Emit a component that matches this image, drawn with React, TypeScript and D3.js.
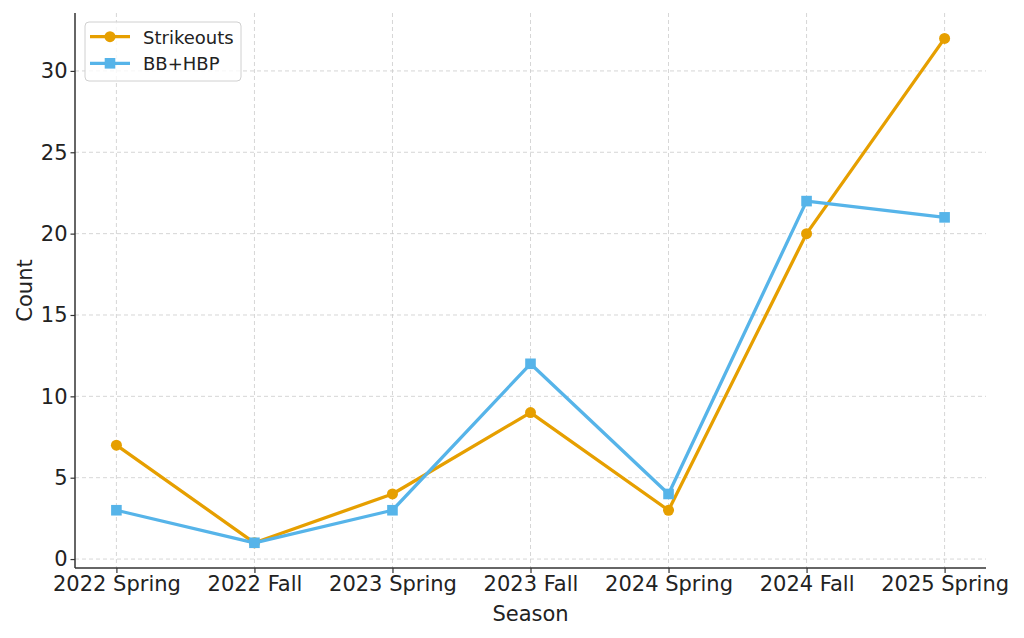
import React, { useEffect, useRef } from 'react';
import * as d3 from 'd3';

const seasons = ['2022 Spring', '2022 Fall', '2023 Spring', '2023 Fall', '2024 Spring', '2024 Fall', '2025 Spring'];
const strikeouts = [7, 1, 4, 9, 3, 20, 32];
const bbHbp = [3, 1, 3, 12, 4, 22, 21];
const yTicks = [0, 5, 10, 15, 20, 25, 30];

const colors = { orange: '#E69F00', blue: '#56B4E9' };
const font = 'DejaVu Sans, sans-serif';

export default function App() {
  const ref = useRef<SVGSVGElement>(null);
  const width = 1024;
  const height = 638;

  useEffect(() => {
    if (!ref.current) return;
    const svg = d3.select(ref.current);
    svg.selectAll('*').remove();

    const left = 75, right = 986, top = 13, bottom = 568;
    const x = d3.scaleLinear().domain([-0.3, seasons.length - 1 + 0.3]).range([left, right]);
    const y = d3.scaleLinear().domain([-0.55, 33.56]).range([bottom, top]);

    const g = svg.append('g');

    // grid
    g.selectAll('line.gx').data(seasons).enter().append('line')
      .attr('x1', (_, i) => x(i)).attr('x2', (_, i) => x(i)).attr('y1', top).attr('y2', bottom)
      .attr('stroke', '#cccccc').attr('stroke-width', 0.8).attr('stroke-dasharray', '4,3');
    g.selectAll('line.gy').data(yTicks).enter().append('line')
      .attr('x1', left).attr('x2', right).attr('y1', d => y(d)).attr('y2', d => y(d))
      .attr('stroke', '#cccccc').attr('stroke-width', 0.8).attr('stroke-dasharray', '4,3');

    // axes
    const xAxis = g.append('g').attr('transform', `translate(0,${bottom})`)
      .call(d3.axisBottom(x).tickValues(seasons.map((_, i) => i)).tickFormat((d: any) => seasons[d]).tickSize(5).tickPadding(3.5).tickSizeOuter(0));
    const yAxis = g.append('g').attr('transform', `translate(${left},0)`)
      .call(d3.axisLeft(y).tickValues(yTicks).tickSize(4.5).tickPadding(3).tickSizeOuter(0));
    [xAxis, yAxis].forEach(a => {
      a.attr('font-family', font).attr('font-size', 21);
      a.select('.domain').attr('stroke', '#333').attr('stroke-width', 1.5);
      a.selectAll('.tick line').attr('stroke', '#333').attr('stroke-width', 1.2);
      a.selectAll('text').attr('fill', '#222');
    });
    yAxis.select('.domain').attr('d', `M0,${top}V${bottom}`);
    xAxis.select('.domain').attr('d', `M${left},0H${right}`);

    // labels
    svg.append('text').attr('x', (left + right) / 2).attr('y', 620.5).attr('text-anchor', 'middle')
      .attr('font-family', font).attr('font-size', 21).attr('fill', '#222').text('Season');
    svg.append('text').attr('transform', `translate(31.5,${(top + bottom) / 2}) rotate(-90)`).attr('text-anchor', 'middle')
      .attr('font-family', font).attr('font-size', 21).attr('fill', '#222').text('Count');

    // lines
    const line = d3.line<number>().x((_, i) => x(i)).y(d => y(d));
    g.append('path').datum(strikeouts).attr('d', line as any).attr('fill', 'none')
      .attr('stroke', colors.orange).attr('stroke-width', 3.3).attr('stroke-linejoin', 'round');
    g.selectAll('circle.so').data(strikeouts).enter().append('circle')
      .attr('cx', (_, i) => x(i)).attr('cy', d => y(d)).attr('r', 5.5).attr('fill', colors.orange);

    g.append('path').datum(bbHbp).attr('d', line as any).attr('fill', 'none')
      .attr('stroke', colors.blue).attr('stroke-width', 3.3).attr('stroke-linejoin', 'round');
    g.selectAll('rect.bb').data(bbHbp).enter().append('rect')
      .attr('x', (_, i) => x(i) - 5.3).attr('y', d => y(d) - 5.3).attr('width', 10.6).attr('height', 10.6).attr('fill', colors.blue);

    // legend
    const lg = svg.append('g').attr('transform', 'translate(85,22)');
    lg.append('rect').attr('width', 156).attr('height', 59).attr('rx', 4)
      .attr('fill', 'white').attr('fill-opacity', 0.8).attr('stroke', '#d0d0d0').attr('stroke-width', 1);
    lg.append('line').attr('x1', 5).attr('x2', 45).attr('y1', 14.7).attr('y2', 14.7).attr('stroke', colors.orange).attr('stroke-width', 3.3);
    lg.append('circle').attr('cx', 25).attr('cy', 14.7).attr('r', 5.5).attr('fill', colors.orange);
    lg.append('text').attr('x', 58).attr('y', 21.5).attr('font-family', font).attr('font-size', 18).attr('fill', '#222').text('Strikeouts');
    lg.append('line').attr('x1', 5).attr('x2', 45).attr('y1', 41.3).attr('y2', 41.3).attr('stroke', colors.blue).attr('stroke-width', 3.3);
    lg.append('rect').attr('x', 19.7).attr('y', 36).attr('width', 10.6).attr('height', 10.6).attr('fill', colors.blue);
    lg.append('text').attr('x', 58).attr('y', 48.3).attr('font-family', font).attr('font-size', 18).attr('fill', '#222').text('BB+HBP');
  }, []);

  return (
    <svg ref={ref} width={width} height={height} style={{ position: 'absolute', left: 0, top: 0, background: 'white' }} />
  );
}
